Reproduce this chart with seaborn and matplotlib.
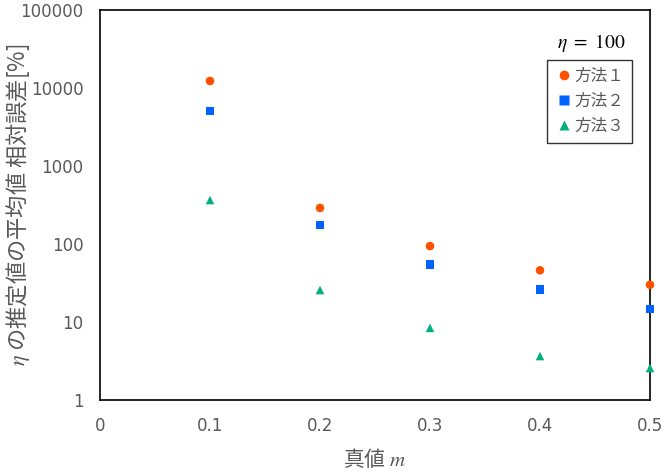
import matplotlib
matplotlib.use("Agg")
import matplotlib.pyplot as plt
import seaborn as sns
import pandas as pd
from matplotlib.lines import Line2D

x_values = [0.1, 0.2, 0.3, 0.4, 0.5]
method1 = [12300, 290, 94, 46, 30]
method2 = [5070, 175, 55, 26, 14.7]
method3 = [366, 25.7, 8.4, 3.66, 2.57]
series_names = ["方法１", "方法２", "方法３"]
y_ticks = [1, 10, 100, 1000, 10000, 100000]
y_tick_labels = ["1", "10", "100", "1000", "10000", "100000"]
x_ticks = [0, 0.1, 0.2, 0.3, 0.4, 0.5]
x_tick_labels = ["0", "0.1", "0.2", "0.3", "0.4", "0.5"]

colors = ["#FF5000", "#0062FF", "#00B07E"]
markers = ["o", "s", "^"]

df = pd.concat([
    pd.DataFrame({"m": x_values, "v": vals, "s": name})
    for name, vals in zip(series_names, [method1, method2, method3])
])

sns.set_theme(style="white")
plt.rcParams["font.family"] = ["Noto Sans CJK JP", "DejaVu Sans"]
plt.rcParams["mathtext.fontset"] = "stix"

fig = plt.figure(figsize=(6.7, 4.75), dpi=100)
ax = fig.add_axes([100/670, 1-400/475, 550/670, 390/475])

sns.scatterplot(data=df, x="m", y="v", hue="s", style="s",
                palette=colors, markers=markers, s=38, linewidth=0,
                ax=ax, legend=False, clip_on=False, zorder=5)

ax.set_yscale("log")
ax.set_ylim(1, 100000)
ax.set_xlim(0, 0.5)
ax.set_yticks(y_ticks)
ax.set_yticklabels(y_tick_labels, fontfamily="DejaVu Sans")
ax.set_xticks(x_ticks)
ax.set_xticklabels(x_tick_labels, fontfamily="DejaVu Sans")
ax.minorticks_off()
ax.tick_params(axis="both", direction="out", length=5, width=1,
               colors="#333333", labelcolor="#595959", labelsize=12, pad=7)
for sp in ax.spines.values():
    sp.set_color("black")
    sp.set_linewidth(1.2)

ax.set_xlabel("真値 $m$", fontsize=15, color="#595959", va="center")
ax.xaxis.set_label_coords(0.5, -(459 - 400) / 390)
ax.set_ylabel("$\\eta$ の推定値の平均値 相対誤差[%]", fontsize=16, color="#595959", va="center")
ax.yaxis.set_label_coords(-(100 - 18) / 550, 0.5)

handles = [Line2D([0], [0], marker=mk, color="none", markerfacecolor=c,
                  markeredgecolor="none", markersize=7, label=n)
           for mk, c, n in zip(markers, colors, series_names)]
leg = ax.legend(handles=handles, loc="upper right", bbox_to_anchor=(632/670, 1-60/475),
                bbox_transform=fig.transFigure, frameon=True, fancybox=False,
                fontsize=12, handletextpad=0.1, handlelength=1.1,
                borderpad=0.45, labelspacing=0.5, borderaxespad=0)
leg.get_frame().set_edgecolor("black")
leg.get_frame().set_linewidth(1.0)
for t in leg.get_texts():
    t.set_color("#595959")

fig.text(591/670, 1-43/475, "$\\eta\\ =\\ 100$", fontsize=14, ha="center", va="center", color="black")

fig.savefig("out.png", dpi=100)
